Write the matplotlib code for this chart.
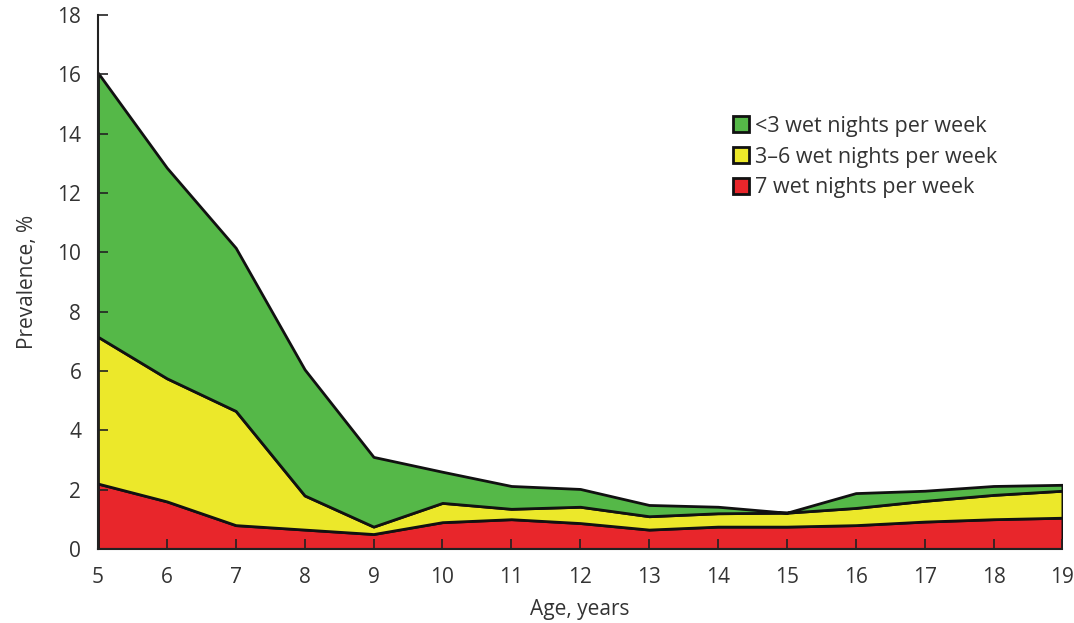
import numpy as np
import matplotlib.pyplot as plt
from matplotlib.patches import Patch

plt.rcParams['font.family'] = ['Open Sans', 'DejaVu Sans']

# age in years
ages = [5, 6, 7, 8, 9, 10, 11, 12, 13, 14, 15, 16, 17, 18, 19]
# prevalence (%) per group, stacked bottom to top
seven = [2.2, 1.6, 0.8, 0.65, 0.5, 0.9, 1.0, 0.87, 0.65, 0.75, 0.75, 0.8, 0.92, 1.0, 1.05]
three_six = [4.95, 4.15, 3.85, 1.15, 0.25, 0.65, 0.35, 0.55, 0.45, 0.45, 0.47, 0.58, 0.7, 0.82, 0.91]
less_three = [8.9, 7.1, 5.5, 4.25, 2.35, 1.05, 0.77, 0.6, 0.38, 0.22, 0.0, 0.5, 0.34, 0.3, 0.2]

labels = ['<3 wet nights per week', '3\u20136 wet nights per week', '7 wet nights per week']
colors = {'green': '#55b848', 'yellow': '#ece82a', 'red': '#e8262b'}
txt = '#333333'

fig = plt.figure(figsize=(10.74, 6.23), dpi=100)
ax = fig.add_axes([0.0912, 0.119, 0.898, 0.857])

ax.stackplot(ages, seven, three_six, less_three,
             colors=[colors['red'], colors['yellow'], colors['green']],
             edgecolor='#111111', linewidth=2)

ax.set_xlim(5, 19)
ax.set_ylim(0, 18)
ax.set_xticks(ages)
ax.set_yticks(range(0, 19, 2))
ax.tick_params(direction='in', length=7, width=1.2, colors='#222222',
               labelcolor=txt, labelsize=15)
ax.tick_params(axis='x', pad=13)
ax.tick_params(axis='y', pad=12)
for s in ['top', 'right']:
    ax.spines[s].set_visible(False)
for s in ['left', 'bottom']:
    ax.spines[s].set_linewidth(1.5)
    ax.spines[s].set_color('#222222')

ax.set_xlabel('Age, years', fontsize=15, color=txt, labelpad=8)
ax.set_ylabel('Prevalence, %', fontsize=15, color=txt, labelpad=14)

handles = [Patch(facecolor=colors['green'], edgecolor='#111111', linewidth=2),
           Patch(facecolor=colors['yellow'], edgecolor='#111111', linewidth=2),
           Patch(facecolor=colors['red'], edgecolor='#111111', linewidth=2)]
ax.legend(handles, labels, loc='upper left', bbox_to_anchor=(0.658, 0.811),
          frameon=False, fontsize=15.5, handlelength=0.75, handleheight=0.75,
          handletextpad=0.3, labelspacing=0.45, borderaxespad=0, borderpad=0,
          labelcolor=txt)

fig.savefig('out.png', dpi=100)
